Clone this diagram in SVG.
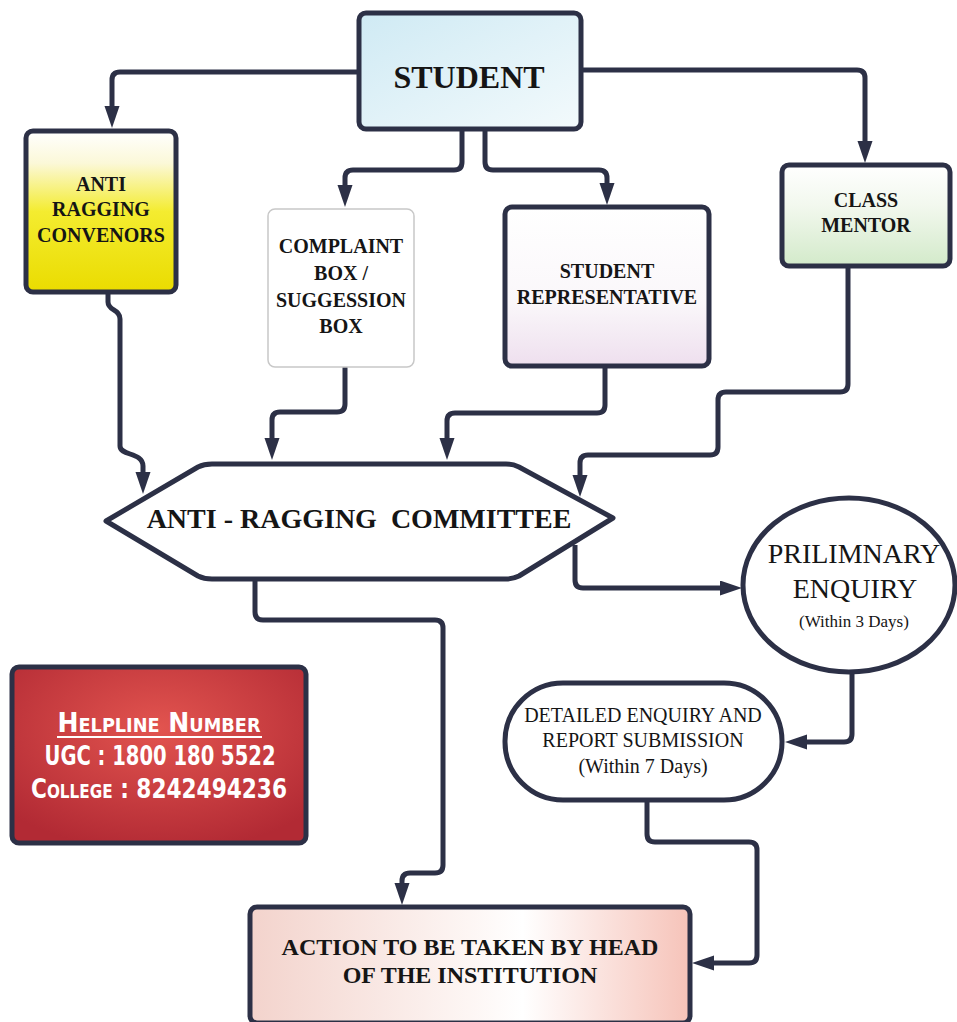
<svg xmlns="http://www.w3.org/2000/svg" width="957" height="1022" viewBox="0 0 957 1022">
<style>
.box{stroke:#2c3046;stroke-width:5;stroke-linejoin:round}
.con{fill:none;stroke:#2c3046;stroke-width:5;stroke-linejoin:round;marker-end:url(#arr)}
.bt{font-family:"Liberation Serif","Times New Roman",serif;font-weight:bold;text-anchor:middle;fill:#151515}
.rt{font-family:"Liberation Serif","Times New Roman",serif;text-anchor:middle;fill:#151515}
.hl{font-family:"DejaVu Sans Condensed","DejaVu Sans",sans-serif;font-weight:bold;fill:#ffffff;text-anchor:middle}
</style>
<defs>
<marker id="arr" markerUnits="userSpaceOnUse" markerWidth="22" markerHeight="16" refX="4" refY="7.5" orient="auto">
<path d="M0,0 L22,7.5 L0,15 Z" fill="#2c3046"/>
</marker>
<linearGradient id="gStu" x1="0" y1="0" x2="1" y2="1"><stop offset="0" stop-color="#cfeaf4"/><stop offset="1" stop-color="#f3fafc"/></linearGradient>
<linearGradient id="gConv" x1="0" y1="0" x2="0" y2="1"><stop offset="0" stop-color="#ffffff"/><stop offset="0.2" stop-color="#fbf8d8"/><stop offset="0.5" stop-color="#f4ec30"/><stop offset="1" stop-color="#eadc00"/></linearGradient>
<linearGradient id="gRep" x1="0" y1="0" x2="0" y2="1"><stop offset="0" stop-color="#ffffff"/><stop offset="0.6" stop-color="#faf7fa"/><stop offset="1" stop-color="#eedfee"/></linearGradient>
<linearGradient id="gMen" x1="0" y1="0" x2="0" y2="1"><stop offset="0" stop-color="#ffffff"/><stop offset="0.4" stop-color="#f2f8ee"/><stop offset="1" stop-color="#d3eaca"/></linearGradient>
<linearGradient id="gAct" x1="0" y1="0" x2="1" y2="0"><stop offset="0" stop-color="#f3d3cc"/><stop offset="0.5" stop-color="#fdf6f4"/><stop offset="0.62" stop-color="#ffffff"/><stop offset="1" stop-color="#f6c3b9"/></linearGradient>
<radialGradient id="gHelp" cx="0.5" cy="0.35" r="0.7"><stop offset="0" stop-color="#e2544f"/><stop offset="1" stop-color="#b22a34"/></radialGradient>
</defs>
<rect width="957" height="1022" fill="#ffffff"/>

<g id="connectors">
<path class="con" d="M359,72 H120 Q112,72 112,80 V110"/>
<path class="con" d="M462,130 V162 Q462,170 454,170 H353 Q345,170 345,178 V189"/>
<path class="con" d="M485,130 V162 Q485,170 493,170 H599 Q607,170 607,178 V187"/>
<path class="con" d="M581,70 H857 Q865,70 865,78 V145"/>
<path class="con" d="M108,292 V302 C108,311 120,309 120,319 V446 C120,456 143,452 143,466 V476"/>
<path class="con" d="M345,367 V404 Q345,412 337,412 H280 Q272,412 272,420 V442"/>
<path class="con" d="M605,366 V405 Q605,413 597,413 H455 Q447,413 447,421 V442"/>
<path class="con" d="M848,266 V384 Q848,392 840,392 H726 Q718,392 718,400 V447 Q718,455 710,455 H588 Q580,455 580,463 V479"/>
<path class="con" d="M255,580 V612 Q255,620 263,620 H435 Q443,620 443,628 V865 Q443,873 435,873 H410 Q402,873 402,881 V887"/>
<path class="con" d="M575,545 V580 Q575,588 583,588 H724"/>
<path class="con" d="M852,673 V734 Q852,742 844,742 H803"/>
<path class="con" d="M647,800 V834 Q647,842 655,842 H749 Q757,842 757,850 V955 Q757,963 749,963 H710"/>
</g>

<g id="student">
<rect class="box" x="359" y="13" width="222" height="116" rx="7" fill="url(#gStu)"/>
<text class="bt" x="469" y="88" font-size="32">STUDENT</text>
</g>

<g id="convenors">
<rect class="box" x="26" y="131" width="150" height="161" rx="7" fill="url(#gConv)"/>
<text class="bt" x="101" y="191" font-size="20" fill="#2e2510">ANTI</text>
<text class="bt" x="101" y="216" font-size="20" fill="#2e2510">RAGGING</text>
<text class="bt" x="101" y="242" font-size="20" fill="#2e2510">CONVENORS</text>
</g>

<g id="complaint">
<rect x="268" y="209" width="146" height="158" rx="7" fill="#ffffff" stroke="#c8c8c8" stroke-width="1.5"/>
<text class="bt" x="341" y="253" font-size="20">COMPLAINT</text>
<text class="bt" x="341" y="280" font-size="20">BOX /</text>
<text class="bt" x="341" y="307" font-size="20">SUGGESSION</text>
<text class="bt" x="341" y="333" font-size="20">BOX</text>
</g>

<g id="representative">
<rect class="box" x="505" y="207" width="204" height="159" rx="7" fill="url(#gRep)"/>
<text class="bt" x="607" y="278" font-size="20" fill="#23152e">STUDENT</text>
<text class="bt" x="607" y="304" font-size="20" fill="#23152e">REPRESENTATIVE</text>
</g>

<g id="mentor">
<rect class="box" x="782" y="165" width="168" height="101" rx="7" fill="url(#gMen)"/>
<text class="bt" x="866" y="207" font-size="20" fill="#1b2a20">CLASS</text>
<text class="bt" x="866" y="232" font-size="20" fill="#1b2a20">MENTOR</text>
</g>

<g id="committee">
<path class="box" fill="#ffffff" d="M106,521 L198,467 Q204,464 212,464 H506 Q513,464 519,467 L613,518 L519,576 Q513,579 506,579 H212 Q204,579 198,576 Z"/>
<text class="bt" x="359" y="528" font-size="28" xml:space="preserve">ANTI - RAGGING  COMMITTEE</text>
</g>

<g id="prilimnary">
<ellipse class="box" cx="849" cy="585" rx="106" ry="87" fill="#ffffff"/>
<text class="rt" x="854" y="563" font-size="28">PRILIMNARY</text>
<text class="rt" x="855" y="598" font-size="28">ENQUIRY</text>
<text class="rt" x="854" y="627" font-size="17">(Within 3 Days)</text>
</g>

<g id="detailed">
<rect class="box" x="505" y="683" width="277" height="117" rx="58" fill="#ffffff"/>
<text class="rt" x="643" y="722" font-size="20">DETAILED ENQUIRY AND</text>
<text class="rt" x="643" y="747" font-size="20">REPORT SUBMISSION</text>
<text class="rt" x="643" y="773" font-size="20">(Within 7 Days)</text>
</g>

<g id="helpline">
<rect class="box" x="12" y="667" width="294" height="176" rx="7" fill="url(#gHelp)"/>
<text class="hl" x="159" y="732" font-size="27" style="font-variant:small-caps" textLength="203" lengthAdjust="spacingAndGlyphs">Helpline Number</text>
<line x1="57" y1="737" x2="262" y2="737" stroke="#ffffff" stroke-width="1.8"/>
<text class="hl" x="160" y="765" font-size="27" textLength="231" lengthAdjust="spacingAndGlyphs">UGC : 1800 180 5522</text>
<text class="hl" x="159" y="798" font-size="27" style="font-variant:small-caps" textLength="256" lengthAdjust="spacingAndGlyphs">College : 8242494236</text>
</g>

<g id="action">
<rect class="box" x="250" y="907" width="440" height="116" rx="7" fill="url(#gAct)"/>
<text class="bt" x="470" y="955" font-size="24" fill="#2e0f16">ACTION TO BE TAKEN BY HEAD</text>
<text class="bt" x="470" y="983" font-size="24" fill="#2e0f16">OF THE INSTITUTION</text>
</g>
</svg>
